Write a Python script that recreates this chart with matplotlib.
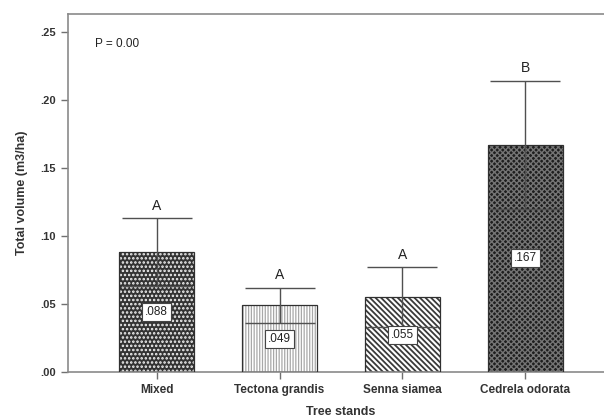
import matplotlib
matplotlib.use("Agg")
import matplotlib.pyplot as plt

plt.rcParams['font.family'] = ['Liberation Sans', 'DejaVu Sans']

stands = ["Mixed", "Tectona grandis", "Senna siamea", "Cedrela odorata"]
volume = [0.088, 0.049, 0.055, 0.167]
errors = [0.025, 0.013, 0.022, 0.047]
groups = ["A", "A", "A", "B"]
value_labels = [".088", ".049", ".055", ".167"]
yticks = [0.0, 0.05, 0.10, 0.15, 0.20, 0.25]
ytick_labels = [".00", ".05", ".10", ".15", ".20", ".25"]

faces = ["#333333", "white", "white", "#1e1e1e"]
hatch_cols = ["#f4f4f4", "#a8a8a8", "#3a3a3a", "#747474"]
hatches = ["....", "||||||", "\\\\\\\\\\\\", "xxxxxx"]
hatch_widths = [1.2, 0.9, 1.3, 1.0]

fig = plt.figure(figsize=(6.04, 4.20), dpi=100)
ax = fig.add_axes([68 / 604, 48 / 420, 546 / 604, 358 / 420])

x = list(range(len(stands)))
for i in x:
    with plt.rc_context({"hatch.linewidth": hatch_widths[i]}):
        ax.bar(i, volume[i], width=0.61, color=faces[i], hatch=hatches[i],
               edgecolor=hatch_cols[i], linewidth=0, zorder=2)
    ax.bar(i, volume[i], width=0.61, fill=False, edgecolor="#303030",
           linewidth=0.9, zorder=3)

ax.errorbar(x, volume, yerr=errors, fmt="none", ecolor="#505050",
            elinewidth=1.0, capsize=25, capthick=1.0, zorder=4)

for i in x:
    ax.text(i, volume[i] + errors[i] + 0.004, groups[i], ha="center",
            va="bottom", fontsize=10, color="#222222", zorder=5)
    ax.text(i, volume[i] / 2, value_labels[i], ha="center", va="center",
            fontsize=8.5, color="#222222", zorder=6,
            bbox=dict(boxstyle="square,pad=0.25", facecolor="white",
                      edgecolor="#444444", linewidth=0.8))

ax.text(0.05, 0.915, "P = 0.00", transform=ax.transAxes, fontsize=8.5,
        color="#222222", ha="left", va="center")

ax.set_xlim(-0.72, 3.72)
ax.set_ylim(0, 0.2632)
ax.set_xticks(x)
ax.set_xticklabels(stands, fontsize=8.5, fontweight="bold", color="#333333")
ax.set_yticks(yticks)
ax.set_yticklabels(ytick_labels, fontsize=8, fontweight="bold", color="#333333")
ax.tick_params(axis="both", colors="#707070", length=5, width=1.0)
ax.tick_params(axis="both", labelcolor="#333333")

for s in ["left", "bottom", "top"]:
    ax.spines[s].set_color("#8a8a8a")
    ax.spines[s].set_linewidth(1.2)
ax.spines["right"].set_visible(False)

ax.set_xlabel("Tree stands", fontsize=9, fontweight="bold", color="#333333",
              labelpad=7)
ax.set_ylabel("Total volume (m3/ha)", fontsize=9, fontweight="bold",
              color="#333333", labelpad=9)

fig.savefig("out.png", dpi=100)
